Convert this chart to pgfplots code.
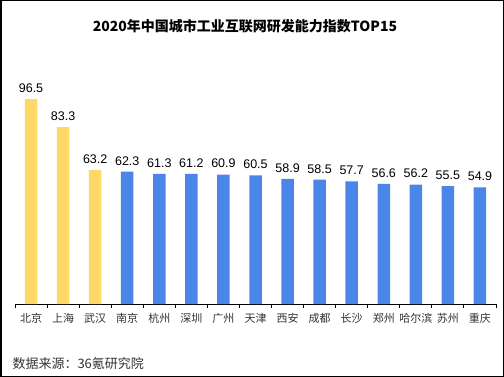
\documentclass[border=0pt]{standalone}
\usepackage{pgfplots}
\pgfplotsset{compat=1.18}
\usepackage{fontspec}
\setmainfont{Liberation Sans}
\newfontfamily\cjk{Noto Sans CJK SC}
\definecolor{ybar}{HTML}{FFD966}
\definecolor{bbar}{HTML}{4A86E8}
\definecolor{lbl}{HTML}{333333}
\begin{document}
\begin{tikzpicture}[x=1bp,y=1bp]
\begin{axis}[
  at={(15bp,73bp)}, anchor=south west,
  scale only axis, width=481bp, height=254.9bp,
  xmin=-0.5, xmax=14.5, ymin=0, ymax=120,
  axis y line=none, axis x line*=bottom,
  axis line style={black, line width=0.9bp},
  xtick={0,...,14},
  xticklabels={北京,上海,武汉,南京,杭州,深圳,广州,天津,西安,成都,长沙,郑州,哈尔滨,苏州,重庆},
  xticklabel style={font=\cjk\fontsize{11bp}{13bp}\selectfont, text=lbl, yshift=-6bp},
  major tick length=0pt,
  minor xtick={-0.5,0.5,...,14.5},
  minor tick length=4bp,
  tick align=outside,
  minor tick style={black, line width=0.9bp},
  ybar, bar width=12.5bp, bar shift=0pt,
  nodes near coords,
  every node near coord/.append style={font=\fontsize{12.5bp}{14bp}\selectfont, black, yshift=3bp},
  /pgf/number format/fixed, /pgf/number format/precision=1, /pgf/number format/fixed zerofill,
  /pgf/number format/assume math mode=true,
  clip=false,
]
\addplot[draw=none, fill=ybar] coordinates {(0,96.5) (1,83.3) (2,63.2)};
\addplot[draw=none, fill=bbar] coordinates {(3,62.3) (4,61.3) (5,61.2) (6,60.9) (7,60.5) (8,58.9) (9,58.5) (10,57.7) (11,56.6) (12,56.2) (13,55.5) (14,54.9)};
\end{axis}
\node[font=\cjk\bfseries\fontsize{14bp}{16bp}\selectfont] at (245bp,351bp) {2020年中国城市工业互联网研发能力指数TOP15};
\node[font=\cjk\fontsize{13bp}{15bp}\selectfont, anchor=west, text=lbl] at (9bp,13bp) {数据来源：36氪研究院};
\pgfresetboundingbox
\draw[line width=1.5bp] (0.75bp,0.75bp) rectangle (503.25bp,376.25bp);
\end{tikzpicture}
\end{document}
